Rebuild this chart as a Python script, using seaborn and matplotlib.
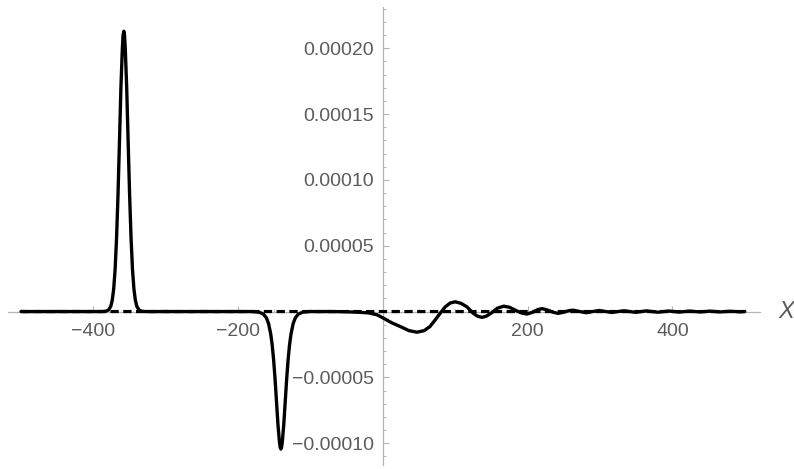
import numpy as np
import pandas as pd
import matplotlib
matplotlib.use("Agg")
import matplotlib.pyplot as plt
from matplotlib.ticker import FixedLocator, MultipleLocator
import seaborn as sns

# Solitary peak near x = -358 (values in units of 1e-5)
peak_x = [-388, -383, -379, -376, -374, -372, -370, -368, -366, -364, -362,
          -360, -359, -358, -357, -356, -354, -352, -350, -348, -346, -344,
          -342, -340, -337, -333, -328]
peak_y = [0.0, 0.02, 0.12, 0.4, 0.85, 1.7, 3.2, 5.6, 8.9, 12.9, 17.0,
          20.0, 21.0, 21.3, 21.0, 20.0, 17.0, 12.9, 8.9, 5.6, 3.2, 1.7,
          0.85, 0.4, 0.12, 0.02, 0.0]

# Negative trough near x = -141
dip_x = [-181, -171, -165, -161, -158, -155, -153, -151, -149, -147, -145,
         -143, -142, -141, -140, -139, -137, -135, -133, -131, -129, -127,
         -124, -121, -117, -111, -101]
dip_y = [0.0, -0.05, -0.2, -0.48, -0.91, -1.71, -2.53, -3.67, -5.14, -6.87,
         -8.59, -9.9, -10.3, -10.45, -10.3, -9.9, -8.59, -6.87, -5.14, -3.67,
         -2.53, -1.71, -0.91, -0.48, -0.2, -0.05, 0.0]

# Dispersive oscillating tail on the right
tail_x = [-70, -50, -35, -20, -8, 1, 12, 24, 36, 47, 57, 65, 72, 79, 86, 93,
          100, 108, 116, 125, 131, 137, 143, 150, 158, 167, 175, 183, 191,
          199, 207, 214, 220, 227, 235, 242, 250, 257, 263, 272, 281, 290,
          299, 308, 316, 325, 333, 341, 349, 357, 364, 372, 380, 388, 395,
          402, 410, 417, 424, 431, 438, 445, 452, 459, 466, 473, 480, 487,
          494, 500]
tail_y = [0.0, -0.02, -0.05, -0.1, -0.25, -0.51, -0.85, -1.14, -1.45, -1.57,
          -1.45, -1.14, -0.65, -0.14, 0.35, 0.65, 0.74, 0.62, 0.36, -0.14,
          -0.36, -0.44, -0.35, -0.1, 0.25, 0.41, 0.32, 0.1, -0.1, -0.19,
          -0.05, 0.15, 0.22, 0.12, -0.05, -0.14, -0.05, 0.07, 0.1, 0.0,
          -0.09, 0.0, 0.08, 0.0, -0.07, 0.0, 0.06, 0.0, -0.06, 0.0, 0.05,
          0.0, -0.05, 0.0, 0.04, 0.0, -0.04, 0.0, 0.04, 0.0, -0.03, 0.0,
          0.03, 0.0, -0.03, 0.0, 0.02, 0.0, -0.02, 0.0]

# Reference (unperturbed) level drawn dashed
ref_x = [-500, 500]
ref_y = [0.0, 0.0]

x_major = [-400, -200, 200, 400]
x_labels = ["\u2212400", "\u2212200", "200", "400"]
y_major = [-0.00010, -0.00005, 0.00005, 0.00010, 0.00015, 0.00020]
y_labels = ["\u22120.00010", "\u22120.00005", "0.00005", "0.00010",
            "0.00015", "0.00020"]

scale = 1e-5
wave = pd.DataFrame({
    "x": [-500] + peak_x + dip_x + tail_x,
    "u": [scale * v for v in [0.0] + peak_y + dip_y + tail_y],
})
ref = pd.DataFrame({"x": ref_x, "u": [scale * v for v in ref_y]})

sns.set_style("white")
plt.rcParams["font.family"] = ["Liberation Sans", "DejaVu Sans"]

fig = plt.figure(figsize=(7.94, 4.69), dpi=100)
ax = fig.add_axes([8 / 794, 4 / 469, 752 / 794, 458 / 469])

sns.lineplot(data=wave, x="x", y="u", ax=ax, sort=False, color="black",
             linewidth=2.4, estimator=None)
sns.lineplot(data=ref, x="x", y="u", ax=ax, sort=False, color="black",
             linewidth=2.3, estimator=None, linestyle=(0, (2.6, 1.4)))
for line in ax.lines:
    line.set_snap(False)

ax.set_xlim(-518, 521)
ax.set_ylim(-0.0001166, 0.0002314)

axis_grey = "#b4b4b4"
label_grey = "#5c5c5c"
for side in ("top", "right"):
    ax.spines[side].set_visible(False)
ax.spines["left"].set_position(("data", 0))
ax.spines["bottom"].set_position(("data", 0))
for side in ("left", "bottom"):
    ax.spines[side].set_color(axis_grey)
    ax.spines[side].set_linewidth(0.9)
    ax.spines[side].set_zorder(0.5)

ax.xaxis.set_major_locator(FixedLocator(x_major))
ax.set_xticklabels(x_labels)
ax.xaxis.set_minor_locator(MultipleLocator(50))
ax.yaxis.set_major_locator(FixedLocator(y_major))
ax.set_yticklabels(y_labels)
ax.yaxis.set_minor_locator(MultipleLocator(0.00001))

ax.tick_params(axis="both", which="both", bottom=True, left=True,
               top=False, right=False)
ax.tick_params(axis="both", which="major", direction="in", length=4.5,
               width=0.8, color=axis_grey, labelcolor=label_grey,
               labelsize=14)
ax.tick_params(axis="both", which="minor", direction="in", length=2.5,
               width=0.7, color=axis_grey)
ax.tick_params(axis="x", which="major", pad=8)
ax.tick_params(axis="y", which="major", pad=6.5)

ax.set_xlabel("")
ax.set_ylabel("")
ax.annotate("X", xy=(1, 0), xycoords=("axes fraction", "data"),
            xytext=(13, 0), textcoords="offset points", ha="left",
            va="center", fontsize=17, fontstyle="italic", color=label_grey)

fig.savefig("out.png", dpi=100)
